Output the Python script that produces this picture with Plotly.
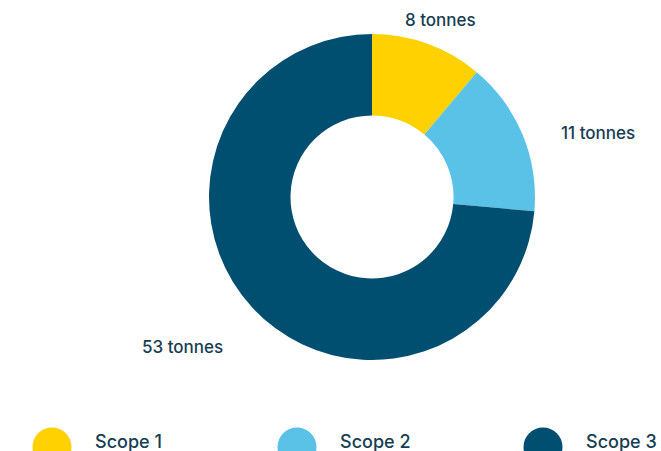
import math
import plotly.graph_objects as go

categories = ["Scope 1", "Scope 2", "Scope 3"]
values = [8, 11, 53]
label_texts = ["8 tonnes", "11 tonnes", "53 tonnes"]
colors = ["#FFD100", "#5BC2E7", "#004F71"]
text_color = "#163D52"
font_family = "Inter, Lato, sans-serif"

W, H = 661, 451
# pie geometry in pixels
cx_pix, cy_pix, radius = 372, 197, 163
# label offsets (pixels) from the outer edge at each slice's mid-angle
label_offsets = [(13, -24), (75, -2), (-69, 40)]

fig = go.Figure()
fig.add_trace(go.Pie(
    labels=categories,
    values=values,
    textinfo="none",
    hole=0.5,
    sort=False,
    direction="clockwise",
    rotation=0,
    marker=dict(colors=colors, line=dict(width=0)),
    showlegend=False,
    hoverinfo="label+value",
    domain=dict(x=[(cx_pix - 200) / W, (cx_pix + 200) / W],
                y=[1 - (cy_pix + radius) / H, 1 - (cy_pix - radius) / H]),
))

# slice labels positioned from the slice mid-angles
total = sum(values)
cum = 0
for v, txt, (ox, oy) in zip(values, label_texts, label_offsets):
    mid = (cum + v / 2) / total * 2 * math.pi
    cum += v
    ax = cx_pix + radius * math.sin(mid) + ox
    ay = cy_pix - radius * math.cos(mid) + oy
    fig.add_annotation(xref="paper", yref="paper", x=ax / W, y=1 - ay / H,
                       text=txt, showarrow=False, xanchor="center", yanchor="middle",
                       font=dict(size=17, color=text_color, family=font_family, weight=500))

# custom legend: big circles and labels
legend_x = [52, 297, 543]
legend_y = 447
r = 19.5
for i, name in enumerate(categories):
    lx = legend_x[i]
    fig.add_shape(type="circle", xref="paper", yref="paper",
                  x0=(lx - r) / W, x1=(lx + r) / W,
                  y0=1 - (legend_y + r) / H, y1=1 - (legend_y - r) / H,
                  fillcolor=colors[i], line=dict(width=0), layer="above")
    fig.add_annotation(xref="paper", yref="paper",
                       x=(lx + 41) / W, y=1 - 441 / H,
                       text=name, showarrow=False, xanchor="left", yanchor="middle",
                       font=dict(size=18, color=text_color, family=font_family, weight=500))

fig.update_layout(
    width=W, height=H,
    margin=dict(l=0, r=0, t=0, b=0),
    paper_bgcolor="white",
    plot_bgcolor="white",
)

fig.write_html("out.html")
